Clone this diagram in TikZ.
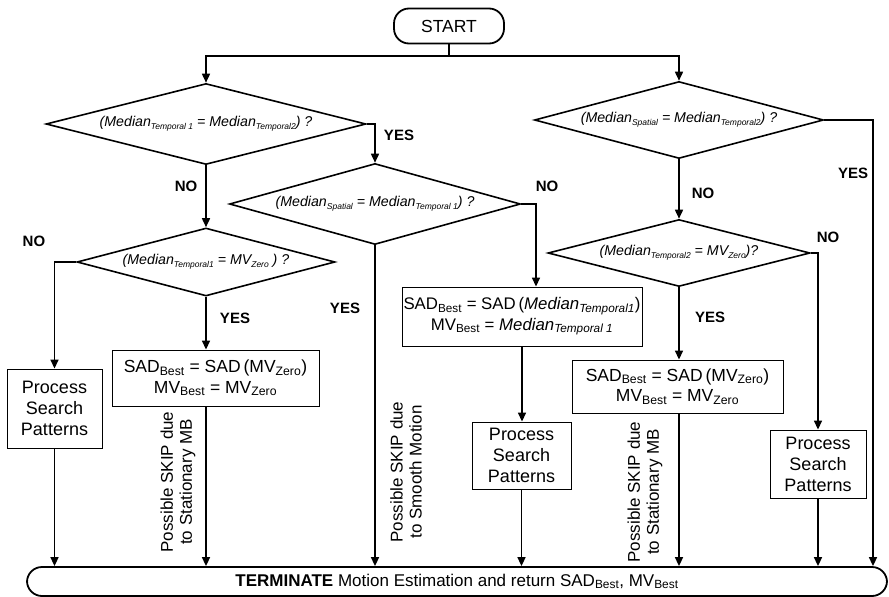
\documentclass[tikz,border=0pt]{standalone}
\usepackage{fontspec}
\setmainfont{Liberation Sans}
\usetikzlibrary{arrows.meta,shapes.geometric,positioning}

% small index below the line, used inside the tests
\newcommand{\lowsub}[1]{\raisebox{-0.35ex}{\fontsize{8.5}{8.5}\selectfont #1}}

\begin{document}
\begin{tikzpicture}[x=1pt, y=-1pt, >={Triangle[length=9pt,width=8pt]},
  every node/.style={font=\fontsize{17.5}{20.5}\selectfont},
  decision/.style={draw, diamond, line width=1.6pt, inner sep=0pt, font=\fontsize{14.2}{17}\selectfont\itshape},
  process/.style={draw, rectangle, line width=0.9pt, inner sep=0pt, align=center},
  terminal/.style={draw, rectangle, line width=1.8pt, rounded corners=15pt, inner sep=0pt},
  flow/.style={->, line width=1.6pt},
  answer/.style={font=\fontsize{15}{18}\selectfont\bfseries},
  skipnote/.style={rotate=90, align=center, font=\fontsize{17}{19}\selectfont}]
  \useasboundingbox (0,0) rectangle (889,597);

  % start / terminate
  \node[terminal, minimum width=110, minimum height=35] (start) at (449,26) {START};
  \node[terminal, minimum width=860, minimum height=29, font=\fontsize{17}{20}\selectfont] (term) at (457,581.5)
    {\textbf{TERMINATE} Motion Estimation and return SAD\textsubscript{Best}, MV\textsubscript{Best}};

  % tests
  \node[decision, aspect=3.95, minimum width=320, minimum height=81] (d1) at (206,124)
    {(Median\lowsub{Temporal 1} = Median\lowsub{Temporal2}) ?};
  \node[decision, aspect=3.6, minimum width=291, minimum height=81] (d2) at (375,204)
    {(Median\lowsub{Spatial} = Median\lowsub{Temporal 1}) ?};
  \node[decision, aspect=3.8, minimum width=258, minimum height=68] (d3) at (206,262)
    {(Median\lowsub{Temporal1} = MV\lowsub{Zero} ) ?};
  \node[decision, aspect=3.75, minimum width=289, minimum height=77] (d4) at (679,120)
    {(Median\lowsub{Spatial} = Median\lowsub{Temporal2}) ?};
  \node[decision, aspect=3.9, minimum width=262, minimum height=67] (d5) at (679,253)
    {(Median\lowsub{Temporal2} = MV\lowsub{Zero})?};

  % actions
  \node[process, minimum width=207, minimum height=56] (sad1) at (215.5,378)
    {SAD\textsubscript{Best} = SAD\,(MV\textsubscript{Zero})\\MV\textsubscript{Best} = MV\textsubscript{Zero}};
  \node[process, minimum width=95, minimum height=79, font=\fontsize{18}{21}\selectfont] (proc1) at (54.5,408.5) {Process\\Search\\Patterns};
  \node[process, minimum width=240, minimum height=59, font=\fontsize{16.8}{20.5}\selectfont] (sadm) at (522,316.5)
    {SAD\textsubscript{Best} = SAD\,(\textit{Median\textsubscript{Temporal1}})\\MV\textsubscript{Best} = \textit{Median\textsubscript{Temporal 1}}};
  \node[process, minimum width=99, minimum height=67, font=\fontsize{18}{21}\selectfont] (proc2) at (521.5,455.5) {Process\\Search\\Patterns};
  \node[process, minimum width=211, minimum height=53] (sad2) at (677.5,386.5)
    {SAD\textsubscript{Best} = SAD\,(MV\textsubscript{Zero})\\MV\textsubscript{Best} = MV\textsubscript{Zero}};
  \node[process, minimum width=96, minimum height=68, font=\fontsize{18}{21}\selectfont] (proc3) at (818,464) {Process\\Search\\Patterns};

  % bends
  \coordinate (split) at (449,56);
  \coordinate (d2turn) at (536,204);
  \coordinate (d4turn) at (873,120);

  \draw[line width=1.6pt] (start.south) -- (split);
  \draw[flow] (split) -| (d1.north);
  \draw[flow] (split) -| (d4.north);
  \draw[flow] (d1.east) -| (d2.north);
  \draw[flow] (d1.south) -- (d3.north);
  \draw[flow] (d3.west) -| (proc1.north);
  \draw[flow] (d3.south) -- (d3.south |- sad1.north);
  \draw[flow] (proc1.south) -- (proc1.south |- term.north);
  \draw[flow] (d3.south |- sad1.south) -- (d3.south |- term.north);
  \draw[flow] (d2.south) -- (d2.south |- term.north);
  \draw[flow] (d2.east) -| (d2turn |- sadm.north);
  \draw[flow] (sadm.south) -- (sadm.south |- proc2.north);
  \draw[flow] (proc2.south) -- (proc2.south |- term.north);
  \draw[flow] (d4.east) -| (d4turn |- term.north);
  \draw[flow] (d4.south) -- (d5.north);
  \draw[flow] (d5.east) -| (proc3.north);
  \draw[flow] (d5.south) -- (d5.south |- sad2.north);
  \draw[flow] (d5.south |- sad2.south) -- (d5.south |- term.north);
  \draw[flow] (proc3.south) -- (proc3.south |- term.north);

  % branch labels
  \node[answer] (yes1) at (399,135) {YES};
  \node[answer] (no1) at (186,186) {NO};
  \node[answer] (no2) at (547,186) {NO};
  \node[answer] (yes2) at (345,308) {YES};
  \node[answer] (no3) at (34,241) {NO};
  \node[answer] (yes3) at (235,318) {YES};
  \node[answer] (no4) at (703,193) {NO};
  \node[answer] (yes4) at (853,173) {YES};
  \node[answer] (no5) at (828,237) {NO};
  \node[answer] (yes5) at (710,317) {YES};

  \node[skipnote] (skip1) at (178,482) {Possible SKIP due\\to Stationary MB};
  \node[skipnote] (skip2) at (406,472) {Possible SKIP due\\to Smooth Motion};
  \node[skipnote] (skip3) at (645,492) {Possible SKIP due\\to Stationary MB};
\end{tikzpicture}
\end{document}
